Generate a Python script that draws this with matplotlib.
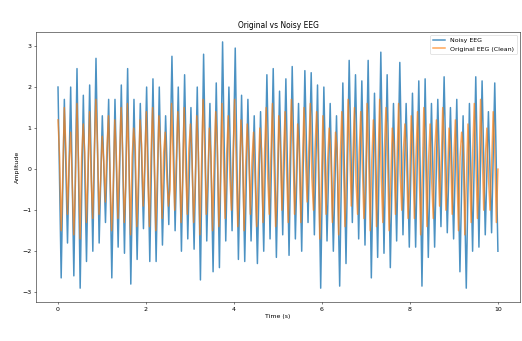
import numpy as np
import matplotlib
matplotlib.use("Agg")
import matplotlib.pyplot as plt

# Valores: pico, valle, pico, valle, ... (0 a 10 s)
noisy_eeg = [
    2.0, -2.65, 1.7, -1.8, 2.0, -2.6, 2.45, -2.9, 1.8, -2.25,
    2.05, -2.0, 2.7, -1.8, 1.3, -1.3, 1.7, -2.65, 1.7, -1.9,
    2.05, -2.05, 2.45, -2.8, 1.7, -2.2, 1.6, -1.45, 2.0, -2.25,
    2.2, -2.25, 2.0, -1.85, 1.3, -1.35, 2.75, -1.5, 2.0, -2.0,
    2.3, -1.7, 1.5, -1.95, 2.0, -2.7, 2.8, -1.75, 1.6, -2.5,
    2.1, -2.4, 3.1, -1.75, 2.0, -1.5, 2.95, -2.2, 1.8, -2.25,
    1.7, -1.75, 1.3, -2.3, 1.4, -2.0, 2.3, -1.7, 2.45, -2.15,
    1.9, -1.6, 2.2, -2.1, 2.5, -1.7, 1.6, -2.0, 2.4, -1.3,
    2.35, -1.6, 2.05, -2.9, 2.0, -1.75, 1.6, -2.0, 1.3, -2.85,
    2.1, -2.3, 2.65, -1.3, 2.3, -1.7, 2.15, -1.85, 2.65, -2.65,
    1.85, -2.15, 2.85, -2.05, 2.3, -2.4, 1.6, -1.75, 2.6, -1.6,
    1.6, -1.9, 1.85, -1.9, 2.15, -2.85, 2.2, -2.15, 1.6, -1.9,
    1.7, -1.4, 2.25, -1.55, 1.5, -1.7, 1.7, -2.5, 1.3, -2.9,
    1.6, -2.0, 2.25, -1.9, 2.15, -1.6, 1.4, -1.55, 2.1, -2.0,
]

# pico, intermedio, valle, intermedio, ...
original_eeg = [
    1.2, 0.3, -1.5, -0.2, 1.5, 0.5, -1.1, 0.1, 0.9, -0.3, -1.6, -0.4, 1.6, 0.2, -1.7, 0.3, 1.1, 0.4, -1.3, -0.1,
    1.4, -0.2, -1.2, 0.4, 1.7, 0.6, -1.1, -0.3, 0.8, 0.2, -0.8, 0.5, 1.3, -0.1, -1.5, -0.5, 1.2, 0.3, -1.2, 0.2,
    1.5, 0.4, -1.3, -0.4, 1.6, 0.1, -1.6, 0.3, 1.0, 0.5, -1.4, -0.2, 1.2, 0.6, -0.9, 0.1, 1.4, -0.3, -1.4, 0.4,
    1.5, 0.2, -1.5, -0.1, 1.3, 0.5, -1.2, 0.4, 0.9, -0.2, -0.9, -0.5, 1.6, 0.3, -1.0, 0.2, 1.4, 0.6, -1.3, -0.3,
    1.5, -0.1, -1.1, 0.5, 1.1, 0.2, -1.3, -0.4, 1.3, 0.4, -1.6, 0.1, 1.7, 0.5, -1.1, -0.2, 1.0, 0.3, -1.5, 0.2,
    1.4, 0.6, -1.4, -0.3, 1.6, 0.1, -1.2, 0.4, 1.3, -0.2, -1.0, 0.3, 1.7, 0.2, -1.4, -0.4, 1.2, 0.5, -1.5, 0.1,
    1.1, 0.3, -1.1, 0.2, 0.9, -0.3, -1.4, -0.1, 1.0, 0.5, -1.3, 0.4, 1.5, -0.2, -1.1, 0.3, 1.6, 0.1, -1.4, -0.5,
    1.3, 0.5, -1.0, 0.3, 1.4, -0.1, -1.3, 0.2, 1.7, 0.6, -1.1, -0.3, 1.1, 0.4, -1.3, 0.1, 1.5, 0.2, -0.8, 0.4,
    1.6, -0.2, -1.0, 0.5, 1.4, 0.3, -1.7, -0.4, 1.3, 0.1, -1.1, 0.2, 1.0, 0.4, -1.3, -0.2, 0.9, 0.5, -1.6, 0.3,
    1.4, 0.2, -1.4, -0.1, 1.7, 0.5, -0.9, 0.3, 1.5, -0.3, -1.1, 0.4, 1.4, 0.1, -1.2, -0.5, 1.6, 0.3, -1.5, 0.2,
    1.2, 0.4, -1.4, 0.1, 1.7, -0.2, -1.3, 0.5, 1.5, 0.3, -1.5, -0.3, 1.0, 0.6, -1.1, 0.2, 1.6, -0.1, -1.0, 0.4,
    1.1, 0.2, -1.2, -0.4, 1.3, 0.5, -1.2, 0.3, 1.4, 0.1, -1.6, -0.2, 1.5, 0.4, -1.4, 0.2, 1.1, -0.3, -1.2, 0.5,
    1.2, 0.3, -0.9, 0.1, 1.5, 0.6, -1.0, -0.2, 1.0, 0.4, -1.1, 0.2, 1.2, -0.1, -1.5, 0.3, 0.9, 0.5, -1.6, -0.3,
    1.1, 0.1, -1.3, 0.4, 1.6, 0.2, -1.2, -0.1, 1.7, 0.5, -1.0, 0.3, 1.0, -0.2, -1.0, 0.1, 1.4, 0.4, -1.3, 0.0,
]

tiempo_noisy = np.linspace(0, 10, len(noisy_eeg))
tiempo_orig = np.linspace(0, 10, len(original_eeg))

fig, ax = plt.subplots(figsize=(522 / 45, 341 / 45), dpi=45)
fig.subplots_adjust(left=0.069, right=0.996, bottom=0.114, top=0.906)

ax.plot(tiempo_noisy, noisy_eeg, label="Noisy EEG", color="#1f77b4", alpha=0.8, linewidth=2.4)
ax.plot(tiempo_orig, original_eeg, label="Original EEG (Clean)", color="#ff7f0e", alpha=0.7, linewidth=2.4)

ax.set_title("Original vs Noisy EEG")
ax.set_xlabel("Time (s)")
ax.set_ylabel("Amplitude")
ax.set_xlim(-0.5, 10.5)
ax.set_ylim(-3.24, 3.34)
ax.legend(loc="upper right")

fig.savefig("out.png", dpi=45)
